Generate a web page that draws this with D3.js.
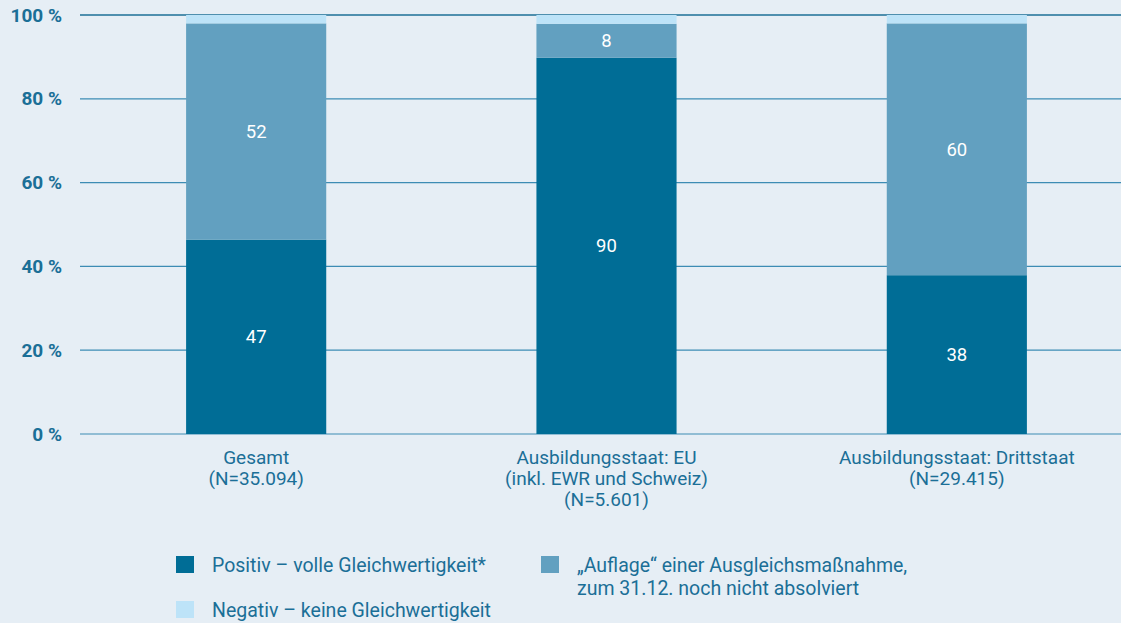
<!DOCTYPE html>
<html>
<head>
<meta charset="utf-8">
<script src="https://cdn.jsdelivr.net/npm/d3@7"></script>
<style>
  body { margin: 0; background: #e6eef5; }
  svg { display: block; font-family: Roboto, "Noto Sans", sans-serif; }
</style>
</head>
<body>
<svg id="chart"></svg>
<script>
// categories (multi-line labels)
const categories = [
  ["Gesamt", "(N=35.094)"],
  ["Ausbildungsstaat: EU", "(inkl. EWR und Schweiz)", "(N=5.601)"],
  ["Ausbildungsstaat: Drittstaat", "(N=29.415)"]
];

// shares (percent)
const positiv = [46.4, 89.8, 37.9];
const auflage = [51.6, 8.1, 60.1];
const negativ = [2.0, 2.1, 2.0];

// printed labels inside the bars
const positivLabels = ["47", "90", "38"];
const auflageLabels = ["52", "8", "60"];

const seriesNames = [
  "Positiv \u2013 volle Gleichwertigkeit*",
  ["\u201EAuflage\u201C einer Ausgleichsma\u00DFnahme,", "zum 31.12. noch nicht absolviert"],
  "Negativ \u2013 keine Gleichwertigkeit"
];
const yTicks = [0, 20, 40, 60, 80, 100];

const colors = ["#006d96", "#62a0c0", "#bde3f8"];
const textColor = "#1b6f97";

const width = 1121, height = 623;
const svg = d3.select("#chart").attr("width", width).attr("height", height);
svg.append("rect").attr("width", width).attr("height", height).attr("fill", "#e6eef5");

const margin = { left: 80, top: 15, bottom: 434 };

const x = d3.scaleBand()
  .domain(d3.range(categories.length))
  .range([81, 1132])
  .paddingInner(0.6)
  .paddingOuter(0.3);

const y = d3.scaleLinear().domain([0, 100]).range([margin.bottom, margin.top]);

// grid lines
svg.selectAll("line.grid")
  .data(yTicks)
  .join("line")
  .attr("class", "grid")
  .attr("x1", margin.left).attr("x2", width)
  .attr("y1", d => y(d)).attr("y2", d => y(d))
  .attr("stroke", d => d === 100 ? "#1d6f96" : "#3d8cb4")
  .attr("stroke-width", d => d === 100 ? 1.6 : 1.2);

// y tick labels
svg.selectAll("text.ytick")
  .data(yTicks)
  .join("text")
  .attr("class", "ytick")
  .attr("x", 62)
  .attr("y", d => y(d))
  .attr("dy", "0.35em")
  .attr("text-anchor", "end")
  .attr("font-size", 19)
  .attr("font-weight", "bold")
  .attr("fill", textColor)
  .text(d => d + " %");

// stack data
const rows = categories.map((c, i) => ({ i, positiv: positiv[i], auflage: auflage[i], negativ: negativ[i] }));
const stack = d3.stack().keys(["positiv", "auflage", "negativ"]);
const layers = stack(rows);

svg.selectAll("g.layer")
  .data(layers)
  .join("g")
  .attr("class", "layer")
  .attr("fill", (d, k) => colors[k])
  .selectAll("rect")
  .data(d => d)
  .join("rect")
  .attr("x", d => x(d.data.i))
  .attr("width", x.bandwidth())
  .attr("y", d => y(d[1]))
  .attr("height", d => y(d[0]) - y(d[1]));

// value labels
const labelSets = [positivLabels, auflageLabels];
labelSets.forEach((labels, k) => {
  svg.selectAll("text.val" + k)
    .data(layers[k])
    .join("text")
    .attr("class", "val" + k)
    .attr("x", d => x(d.data.i) + x.bandwidth() / 2)
    .attr("y", d => (y(d[0]) + y(d[1])) / 2)
    .attr("dy", "0.35em")
    .attr("text-anchor", "middle")
    .attr("font-size", 18.5)
    .attr("fill", "#ffffff")
    .text((d, i) => labels[i]);
});

// category labels
const cat = svg.selectAll("text.cat")
  .data(categories)
  .join("text")
  .attr("class", "cat")
  .attr("text-anchor", "middle")
  .attr("font-size", 19)
  .attr("fill", textColor)
  .attr("x", (d, i) => x(i) + x.bandwidth() / 2)
  .attr("y", 464);
cat.selectAll("tspan")
  .data(d => d)
  .join("tspan")
  .attr("x", function () { return d3.select(this.parentNode).attr("x"); })
  .attr("dy", (d, j) => j === 0 ? 0 : 21)
  .text(d => d);

// legend
const legendPos = [[176, 556], [541, 556], [176, 601]];
const legend = svg.selectAll("g.legend")
  .data(seriesNames)
  .join("g")
  .attr("class", "legend")
  .attr("transform", (d, k) => `translate(${legendPos[k][0]},${legendPos[k][1]})`);
legend.append("rect")
  .attr("width", 18).attr("height", 17)
  .attr("fill", (d, k) => colors[k]);
const lt = legend.append("text")
  .attr("x", 36)
  .attr("y", 16)
  .attr("font-size", 19.5)
  .attr("fill", textColor);
lt.selectAll("tspan")
  .data(d => Array.isArray(d) ? d : [d])
  .join("tspan")
  .attr("x", 36)
  .attr("dy", (d, j) => j === 0 ? 0 : 23)
  .text(d => d);
</script>
</body>
</html>
